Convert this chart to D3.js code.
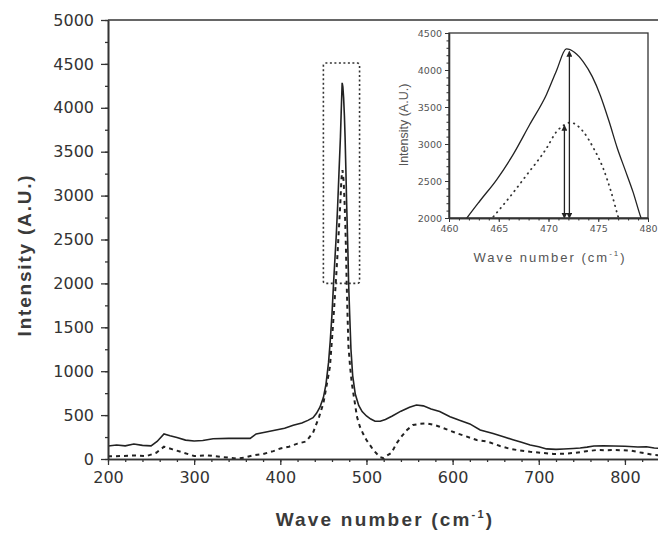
<!DOCTYPE html>
<html>
<head>
<meta charset="utf-8">
<style>
  body { margin: 0; background: #fff; }
  svg { display: block; }
  .tick text { font-family: "DejaVu Sans", sans-serif; }
</style>
</head>
<body>
<svg id="chart"></svg>

<script src="https://d3js.org/d3.v7.min.js"></script>
<script>

  // solid spectrum
  var waveSolid = [200, 210, 220, 230, 240, 250, 257, 265, 272, 280, 290, 300, 310, 322, 340, 365,
    372, 385, 395, 405, 415, 425, 432, 438, 442, 446, 450, 453, 456, 458, 460, 461.8, 463.1, 464.8,
    466.5, 468.1, 469.8, 470.8, 471.8, 472.6, 473.5, 474.4, 475.2, 476.1, 476.9, 477.7, 478.5, 479.3,
    480.5, 482, 484, 487, 491, 495, 500, 505, 510, 516, 522, 530, 540, 550, 558, 566, 575, 585, 597,
    608, 620, 632, 647, 660, 670, 680, 690, 700, 709, 720, 729, 740, 748, 756, 764, 775, 787, 800,
    815, 825, 834, 842, 850];
  var intensitySolid = [148, 160, 150, 170, 155, 150, 200, 285, 265, 245, 215, 205, 210, 230, 235, 235,
    285, 310, 330, 350, 385, 410, 440, 470, 520, 590, 700, 850, 1100, 1350, 1650, 2000, 2230, 2520,
    2870, 3260, 3670, 3990, 4285, 4240, 4110, 3910, 3660, 3300, 2950, 2650, 2350, 2000,
    1650, 1250, 950, 740, 610, 540, 490, 455, 430, 430, 450, 490, 545, 590, 615, 605, 570, 540, 482,
    440, 400, 330, 290, 250, 220, 190, 160, 140, 115, 110, 114, 120, 125, 135, 148, 150, 148, 145,
    137, 140, 125, 120, 110];

  // dashed spectrum
  var waveDashed = [200, 215, 230, 245, 256, 265, 275, 285, 300, 315, 330, 342, 350, 358, 368, 380,
    392, 400, 410, 420, 430, 438, 445, 450, 454, 457.6, 461, 464.6, 466.2, 467.8, 469.8, 470.8, 471.5,
    472.2, 473.5, 474.5, 475.5, 476.3, 477, 478, 479, 481, 483, 486.6, 489, 492.4, 496, 500, 504, 508,
    512, 516, 520, 524, 529, 535, 541, 547, 554, 562, 570, 578, 585, 595, 605, 615, 628, 640, 655,
    665, 675, 690, 703, 717, 728, 740, 753, 767, 777, 787, 797, 807, 820, 834, 850];
  var intensityDashed = [30, 34, 40, 34, 71, 140, 110, 80, 34, 42, 25, 15, 5, 15, 40, 57,
    90, 120, 140, 175, 200, 300, 480, 634, 850, 1051, 1500, 2040, 2300, 2580, 2942, 3166, 3250,
    3290, 3166, 2950, 2670, 2350, 2018, 1650, 1300, 1050, 862, 634, 480, 368, 290, 216, 160, 102,
    60, 20, 8, 40, 70, 179, 260, 330, 387, 400, 406, 390, 368, 330, 292, 260, 216, 200, 148,
    120, 102, 83, 70, 57, 60, 68, 85, 102, 100, 102, 100, 95, 70, 45, 40];

  var xTicks = [200, 300, 400, 500, 600, 700, 800];
  var yTicks = [0, 500, 1000, 1500, 2000, 2500, 3000, 3500, 4000, 4500, 5000];
  var insetXTicks = [460, 465, 470, 475, 480];
  var insetYTicks = [2000, 2500, 3000, 3500, 4000, 4500];

  // zoom box in the main plot: [wave from, wave to, intensity from, intensity to]
  var zoomBox = [450, 492, 2000, 4510];

  // peak height arrows in the inset
  var arrowWave = [472.1, 471.6];
  var arrowTop = [4250, 3250];
  var arrowBase = 2000;

  var svg = d3.select("#chart")
    .attr("width", 658)
    .attr("height", 533);

  var x = d3.scaleLinear().domain([200, 850]).range([108, 668]);
  var y = d3.scaleLinear().domain([0, 5000]).range([459, 20]);
  var fmt = d3.format("d");

  var defs = svg.append("defs");
  defs.append("clipPath").attr("id", "mainClip")
    .append("rect")
    .attr("x", 108).attr("y", 20).attr("width", 560).attr("height", 439);

  defs.append("marker")
    .attr("id", "head")
    .attr("viewBox", "0 0 8 8")
    .attr("refX", 7).attr("refY", 4)
    .attr("markerWidth", 6).attr("markerHeight", 6)
    .attr("markerUnits", "userSpaceOnUse")
    .attr("orient", "auto-start-reverse")
    .append("path")
    .attr("d", "M0,0 L8,4 L0,8 z")
    .attr("fill", "#222");

  var solidPts = d3.zip(waveSolid, intensitySolid);
  var dashedPts = d3.zip(waveDashed, intensityDashed);

  var line = d3.line()
    .x(function(d) { return x(d[0]); })
    .y(function(d) { return y(d[1]); });

  var plot = svg.append("g").attr("clip-path", "url(#mainClip)");

  plot.append("path")
    .datum(dashedPts)
    .attr("d", line)
    .attr("fill", "none")
    .attr("stroke", "#222")
    .attr("stroke-width", 2)
    .attr("stroke-dasharray", "4,4");

  plot.append("path")
    .datum(solidPts)
    .attr("d", line)
    .attr("fill", "none")
    .attr("stroke", "#222")
    .attr("stroke-width", 1.6);

  // dotted box around the peak
  svg.append("rect")
    .attr("x", x(zoomBox[0]))
    .attr("y", y(zoomBox[3]))
    .attr("width", x(zoomBox[1]) - x(zoomBox[0]))
    .attr("height", y(zoomBox[2]) - y(zoomBox[3]))
    .attr("rx", 2)
    .attr("fill", "none")
    .attr("stroke", "#333")
    .attr("stroke-width", 1.6)
    .attr("stroke-dasharray", "2,2.5");

  // top frame
  svg.append("line")
    .attr("x1", 108).attr("x2", 668)
    .attr("y1", y(5000)).attr("y2", y(5000))
    .attr("stroke", "#333").attr("stroke-width", 1.6);

  function styleAxis(g, width) {
    g.select(".domain").attr("stroke", "#333").attr("stroke-width", width);
    g.selectAll(".tick line").attr("stroke", "#333").attr("stroke-width", width * 0.8);
  }

  // main axes
  svg.append("g")
    .attr("transform", "translate(0," + y(0) + ")")
    .call(d3.axisBottom(x).tickValues(d3.range(200, 851, 20)).tickSize(3).tickSizeOuter(0).tickFormat(""))
    .call(styleAxis, 1.6);

  svg.append("g")
    .attr("transform", "translate(0," + y(0) + ")")
    .call(d3.axisBottom(x).tickValues(xTicks).tickSize(6).tickSizeOuter(0).tickPadding(7).tickFormat(fmt))
    .call(styleAxis, 1.6)
    .selectAll("text")
    .attr("font-size", 16)
    .attr("fill", "#333");

  svg.append("g")
    .attr("transform", "translate(108,0)")
    .call(d3.axisLeft(y).tickValues(d3.range(0, 5001, 250)).tickSize(3).tickSizeOuter(0).tickFormat(""))
    .call(styleAxis, 1.6);

  svg.append("g")
    .attr("transform", "translate(108,0)")
    .call(d3.axisLeft(y).tickValues(yTicks).tickSize(7).tickSizeOuter(0).tickPadding(7).tickFormat(fmt))
    .call(styleAxis, 1.6)
    .selectAll("text")
    .attr("font-size", 16)
    .attr("fill", "#333");

  // main titles
  var xTitle = svg.append("text")
    .attr("x", 385).attr("y", 526)
    .attr("text-anchor", "middle")
    .attr("font-family", "Liberation Sans, Arial, sans-serif")
    .attr("font-weight", "bold")
    .attr("font-size", 19)
    .attr("letter-spacing", 2.2)
    .attr("fill", "#3a3a3a")
    .text("Wave number (cm");
  xTitle.append("tspan").attr("font-size", 11).attr("dy", -8).text("-1");
  xTitle.append("tspan").attr("dy", 8).text(")");

  svg.append("text")
    .attr("transform", "translate(31,255) rotate(-90)")
    .attr("text-anchor", "middle")
    .attr("font-family", "Liberation Sans, Arial, sans-serif")
    .attr("font-weight", "bold")
    .attr("font-size", 19)
    .attr("letter-spacing", 1.8)
    .attr("fill", "#3a3a3a")
    .text("Intensity (A.U.)");

  // inset
  var ix = d3.scaleLinear().domain([460, 480]).range([449, 648]);
  var iy = d3.scaleLinear().domain([2000, 4500]).range([218, 33]);

  defs.append("clipPath").attr("id", "insetClip")
    .append("rect")
    .attr("x", 449).attr("y", 33).attr("width", 199).attr("height", 185);

  var iline = d3.line()
    .x(function(d) { return ix(d[0]); })
    .y(function(d) { return iy(d[1]); })
    .curve(d3.curveMonotoneX);

  function near(d) { return d[0] >= 455 && d[0] <= 485; }

  var inset = svg.append("g").attr("clip-path", "url(#insetClip)");

  inset.append("path")
    .datum(dashedPts.filter(near))
    .attr("d", iline)
    .attr("fill", "none")
    .attr("stroke", "#333")
    .attr("stroke-width", 1.8)
    .attr("stroke-linecap", "round")
    .attr("stroke-dasharray", "0.5,5");

  inset.append("path")
    .datum(solidPts.filter(near))
    .attr("d", iline)
    .attr("fill", "none")
    .attr("stroke", "#222")
    .attr("stroke-width", 1.3);

  svg.selectAll(".peakArrow")
    .data(arrowWave)
    .enter().append("line")
    .attr("class", "peakArrow")
    .attr("x1", function(d) { return ix(d); })
    .attr("x2", function(d) { return ix(d); })
    .attr("y1", iy(arrowBase))
    .attr("y2", function(d, i) { return iy(arrowTop[i]); })
    .attr("stroke", "#222")
    .attr("stroke-width", 1.3)
    .attr("marker-start", "url(#head)")
    .attr("marker-end", "url(#head)");

  svg.append("rect")
    .attr("x", 449).attr("y", 33).attr("width", 199).attr("height", 185)
    .attr("fill", "none")
    .attr("stroke", "#333")
    .attr("stroke-width", 1.3);

  svg.append("g")
    .attr("transform", "translate(0,218)")
    .call(d3.axisBottom(ix).tickValues(d3.range(460, 480.5, 1)).tickSize(2.5).tickSizeOuter(0).tickFormat(""))
    .call(styleAxis, 1.3);

  svg.append("g")
    .attr("transform", "translate(0,218)")
    .call(d3.axisBottom(ix).tickValues(insetXTicks).tickSize(4).tickSizeOuter(0).tickPadding(3).tickFormat(fmt))
    .call(styleAxis, 1.3)
    .selectAll("text")
    .attr("font-size", 9.5)
    .attr("fill", "#555");

  svg.append("g")
    .attr("transform", "translate(449,0)")
    .call(d3.axisLeft(iy).tickValues(d3.range(2000, 4501, 100)).tickSize(2.5).tickSizeOuter(0).tickFormat(""))
    .call(styleAxis, 1.3);

  svg.append("g")
    .attr("transform", "translate(449,0)")
    .call(d3.axisLeft(iy).tickValues(insetYTicks).tickSize(4).tickSizeOuter(0).tickPadding(3).tickFormat(fmt))
    .call(styleAxis, 1.3)
    .selectAll("text")
    .attr("font-size", 9.5)
    .attr("fill", "#555");

  var ixTitle = svg.append("text")
    .attr("x", 550).attr("y", 262)
    .attr("text-anchor", "middle")
    .attr("font-family", "Liberation Sans, Arial, sans-serif")
    .attr("font-size", 13)
    .attr("letter-spacing", 2)
    .attr("fill", "#555")
    .text("Wave number  (cm");
  ixTitle.append("tspan").attr("font-size", 8).attr("dy", -6).text("-1");
  ixTitle.append("tspan").attr("dy", 6).text(")");

  svg.append("text")
    .attr("transform", "translate(408,125) rotate(-90)")
    .attr("text-anchor", "middle")
    .attr("font-family", "Liberation Sans, Arial, sans-serif")
    .attr("font-size", 12.5)
    .attr("fill", "#555")
    .text("Intensity (A.U.)");

</script>
</body>
</html>
